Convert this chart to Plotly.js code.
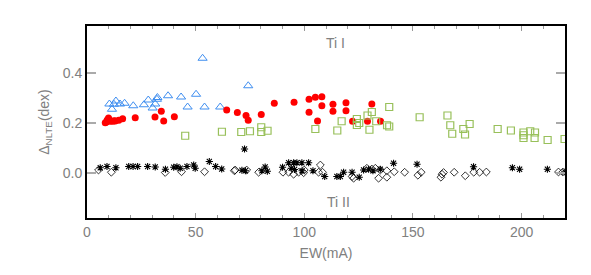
<!DOCTYPE html>
<html>
<head>
<meta charset="utf-8">
<script src="https://cdn.plot.ly/plotly-3.0.1.min.js"></script>
<style>html,body{margin:0;padding:0;background:#fff;}#chart{width:591px;height:275px;}</style>
</head>
<body>
<div id="chart"></div>
<script>
// Ti I lines, group A (blue open triangles)
var triX = [10.3,11.5,12.4,13.3,15.2,17.3,21.3,26.2,28.2,30.2,31.4,32.2,32.4,37.3,43.3,46.3,50.2,53.2,54.1,61.3,74.2];
var triY = [0.277,0.256,0.276,0.289,0.277,0.280,0.270,0.274,0.293,0.261,0.277,0.296,0.303,0.310,0.305,0.265,0.316,0.460,0.265,0.265,0.350];

// Ti I lines, group B (red filled circles)
var circX = [8.4,9.0,9.3,9.9,10.0,10.7,11.8,12.5,13.0,14.6,16.4,22.2,31.3,34.2,35.3,40.2,64.3,69.2,73.2,74.2,80.2,86.2,95.3,102.2,105.1,108.1,102.2,108.1,106.1,113.2,113.2,119.2,119.2,122.2,129.1,131.1,135.1];
var circY = [0.202,0.205,0.213,0.221,0.215,0.208,0.208,0.210,0.209,0.212,0.218,0.222,0.225,0.248,0.209,0.226,0.253,0.243,0.231,0.212,0.235,0.280,0.284,0.296,0.304,0.306,0.244,0.270,0.209,0.276,0.248,0.282,0.250,0.208,0.208,0.277,0.208];

// Ti I lines, group C (green open squares)
var sqX = [45.2,62.1,71.0,75.0,80.2,80.2,83.1,105.1,115.2,117.2,124.2,124.2,125.3,129.1,131.1,130.0,133.1,138.1,139.1,139.1,153.1,165.9,167.2,168.1,173.2,174.0,176.1,189.0,195.1,200.9,200.9,200.9,204.0,206.2,206.0,212.0,219.8];
var sqY = [0.150,0.166,0.165,0.168,0.184,0.165,0.170,0.177,0.171,0.208,0.217,0.193,0.201,0.231,0.245,0.174,0.208,0.192,0.187,0.265,0.224,0.231,0.192,0.158,0.177,0.155,0.197,0.177,0.171,0.163,0.152,0.141,0.168,0.163,0.141,0.133,0.137];

// Ti II lines, group A (black open diamonds)
var diaX = [5.3,11.2,36.0,43.5,54.1,67.8,68.2,73.5,79.0,90.2,92.8,95.1,97.4,99.7,100.0,106.6,107.4,108.4,122.0,122.7,128.8,131.1,132.7,134.2,135.0,138.0,138.0,141.4,146.2,152.3,153.8,162.9,163.4,164.1,169.0,174.1,178.0,180.7,183.8,217.0,219.0];
var diaY = [0.013,0.004,0.003,0.006,0.006,0.010,0.013,0.013,0.004,0.004,0.004,-0.004,0.004,0.002,0.013,0.004,0.033,0.004,-0.013,-0.020,0.020,0.017,0.020,-0.020,0.013,0.010,-0.016,0.006,0.004,-0.008,0.004,-0.016,-0.004,0.003,0.004,-0.010,0.004,0.004,0.005,0.005,0.005];

// Ti II lines, group B (black asterisks)
var astX = [6.1,9.2,13.3,19.2,21.2,23.3,27.9,31.4,36.1,39.9,41.4,42.9,46.0,49.1,49.8,56.3,59.2,62.0,71.3,72.5,72.9,80.5,82.0,83.0,90.0,92.8,95.1,96.6,98.9,102.0,94.0,95.5,99.0,104.0,109.4,115.0,116.6,118.1,122.0,125.3,127.3,129.6,131.6,135.0,141.1,151.9,177.9,195.8,199.1,211.9,220.0];
var astY = [0.022,0.027,0.022,0.027,0.027,0.027,0.027,0.025,0.016,0.024,0.026,0.020,0.027,0.033,0.020,0.047,0.027,0.017,0.012,0.097,0.010,0.010,0.025,0.008,0.024,0.042,0.042,0.042,0.042,0.042,0.020,0.015,0.010,0.010,-0.013,-0.013,-0.013,0.004,0.004,-0.016,0.013,0.016,0.010,0.016,0.040,0.036,0.026,0.022,0.016,0.016,0.005];

var xTickVals = [0,50,100,150,200];
var yTickVals = [0.0,0.2,0.4];

var gray = '#808080';
var fontFam = 'Liberation Sans, Arial, sans-serif';

var traces = [
  {x: triX, y: triY, type:'scatter', mode:'markers', name:'Ti I a',
   marker:{symbol:'triangle-up-open', size:8, color:'#3f8ef0', line:{width:1, color:'#3f8ef0'}}},
  {x: circX, y: circY, type:'scatter', mode:'markers', name:'Ti I b',
   marker:{symbol:'circle', size:7, color:'#ff0000', line:{width:0}}},
  {x: sqX, y: sqY, type:'scatter', mode:'markers', name:'Ti I c',
   marker:{symbol:'square-open', size:7, color:'#98c05a', line:{width:1.2, color:'#98c05a'}}},
  {x: diaX, y: diaY, type:'scatter', mode:'markers', name:'Ti II a',
   marker:{symbol:'diamond-open', size:6, color:'#000', line:{width:0.8, color:'#000'}}},
  {x: astX, y: astY, type:'scatter', mode:'markers', name:'Ti II b',
   marker:{symbol:'asterisk-open', size:6, color:'#000', line:{width:1.1, color:'#000'}}}
];

var layout = {
  width:591, height:275,
  margin:{l:87, r:26, t:26, b:57, pad:0},
  paper_bgcolor:'#fff', plot_bgcolor:'#fff',
  showlegend:false,
  font:{family:fontFam, size:14, color:gray},
  xaxis:{
    range:[0,220], showgrid:false, zeroline:false,
    showline:true, linecolor:'#000', linewidth:2, mirror:'ticks',
    ticks:'inside', ticklen:5, tickwidth:1, tickcolor:'#999',
    tickvals:xTickVals, ticktext:xTickVals.map(String),
    minor:{dtick:10, tick0:0, ticks:'inside', ticklen:3, tickcolor:'#999', showgrid:false},
    tickfont:{size:14, color:gray, family:fontFam},
    title:{text:'EW(mA)', font:{size:14, color:gray, family:fontFam}, standoff:9}
  },
  yaxis:{
    range:[-0.179,0.589], showgrid:false, zeroline:false,
    showline:true, linecolor:'#000', linewidth:2, mirror:'ticks',
    ticks:'inside', ticklen:9, tickwidth:2, tickcolor:'#aaa',
    tickvals:yTickVals, ticktext:yTickVals.map(function(v){return v.toFixed(1);}),
    tickfont:{size:14, color:gray, family:fontFam},
    title:{text:'Δ<sub>NLTE</sub>(dex)', font:{size:14, color:gray, family:fontFam}, standoff:10}
  },
  annotations:[
    {x:114.3, y:0.521, xref:'x', yref:'y', text:'Ti I', showarrow:false,
     font:{size:14, color:gray, family:fontFam}},
    {x:115.6, y:-0.115, xref:'x', yref:'y', text:'Ti II', showarrow:false,
     font:{size:14, color:gray, family:fontFam}}
  ]
};

Plotly.newPlot('chart', traces, layout, {staticPlot:true, displayModeBar:false});
</script>
</body>
</html>
